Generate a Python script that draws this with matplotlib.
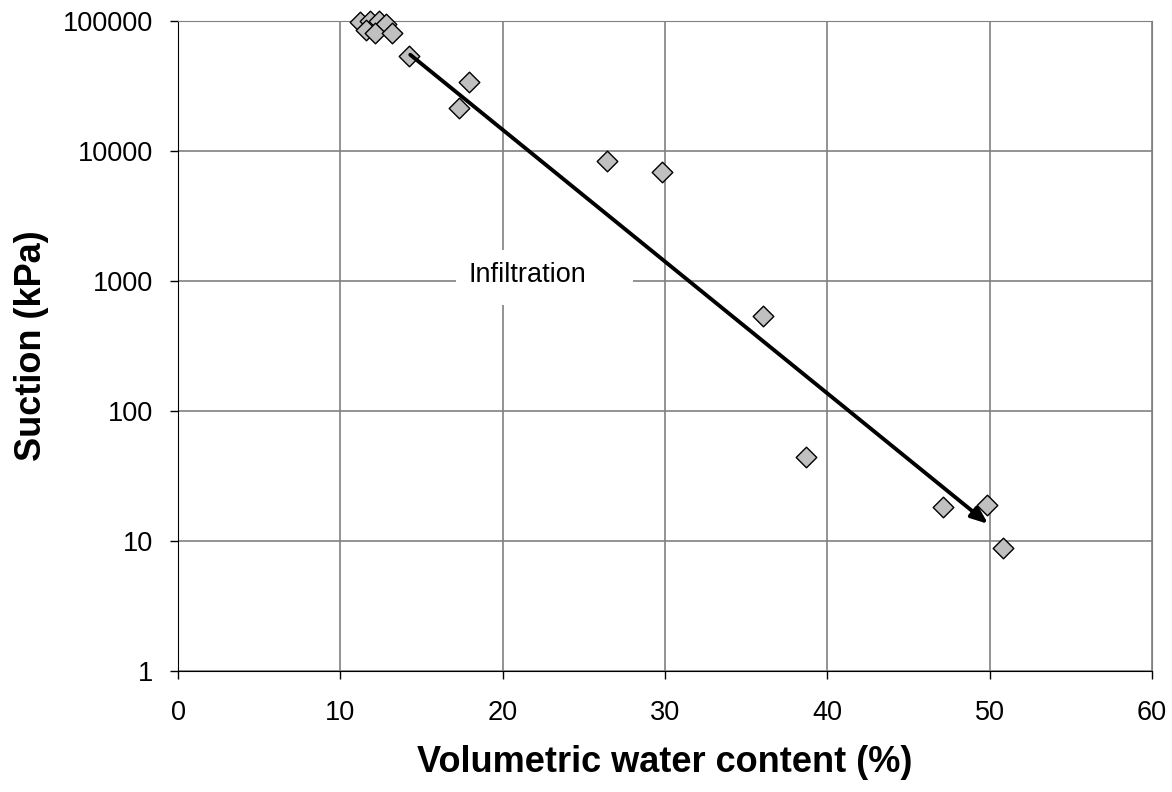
"""Soil water retention points with infiltration trend arrow."""

import matplotlib.pyplot as plt
from matplotlib.patches import Rectangle

plt.rcParams["font.family"] = ["Liberation Sans", "DejaVu Sans"]

# volumetric water content (%) and suction (kPa)
water_content = [11.2, 11.8, 12.4, 12.8, 11.6, 12.1, 13.2, 14.2, 17.9, 17.3,
                 26.4, 29.8, 36.0, 38.7, 47.1, 49.8, 50.8]
suction = [98000, 100000, 100000, 95000, 85000, 81000, 81000, 54000, 34000, 21500,
           8400, 6900, 540, 44, 18.3, 18.9, 8.8]

arrow_start = (14.3, 55000)
arrow_end = (49.9, 13.5)

x_ticks = [0, 10, 20, 30, 40, 50, 60]
y_ticks = [1, 10, 100, 1000, 10000, 100000]

fig = plt.figure(figsize=(11.72, 7.92), dpi=100)
ax = fig.add_axes([0.152, 0.153, 0.831, 0.8205])

ax.set_yscale("log")
ax.set_xlim(0, 60)
ax.set_ylim(1, 100000)
ax.set_xticks(x_ticks)
ax.set_xticklabels([str(t) for t in x_ticks])
ax.set_yticks(y_ticks)
ax.set_yticklabels([str(t) for t in y_ticks])
ax.minorticks_off()
ax.grid(True, color="#808080", linewidth=1.2)
ax.set_axisbelow(True)

for side in ["top", "right"]:
    ax.spines[side].set_color("#808080")
ax.spines["left"].set_color("black")
ax.spines["bottom"].set_color("black")
ax.tick_params(labelsize=19.5, length=6, width=1, direction="out")
ax.tick_params(axis="x", pad=15)
ax.tick_params(axis="y", pad=12)

ax.scatter(water_content, suction, marker="D", s=110, facecolor="#c0c0c0",
           edgecolor="black", linewidth=1.0, zorder=3, clip_on=False)

ax.annotate("", xy=arrow_end, xytext=arrow_start,
            arrowprops=dict(arrowstyle="-|>,head_length=1.0,head_width=0.4",
                            color="black", lw=2.8, shrinkA=0, shrinkB=0),
            zorder=4)

# white label box behind the text, as in the spreadsheet original
ax.add_patch(Rectangle((17.1, 653), 10.9, 1730 - 653, facecolor="white",
                       edgecolor="none", zorder=2))
ax.text(21.5, 1112, "Infiltration", fontsize=19.5, ha="center", va="center", zorder=5)

ax.set_xlabel("Volumetric water content (%)", fontsize=26, fontweight="bold", labelpad=14)
ax.set_ylabel("Suction (kPa)", fontsize=26, fontweight="bold", labelpad=10)

plt.savefig("out.png", dpi=100)
